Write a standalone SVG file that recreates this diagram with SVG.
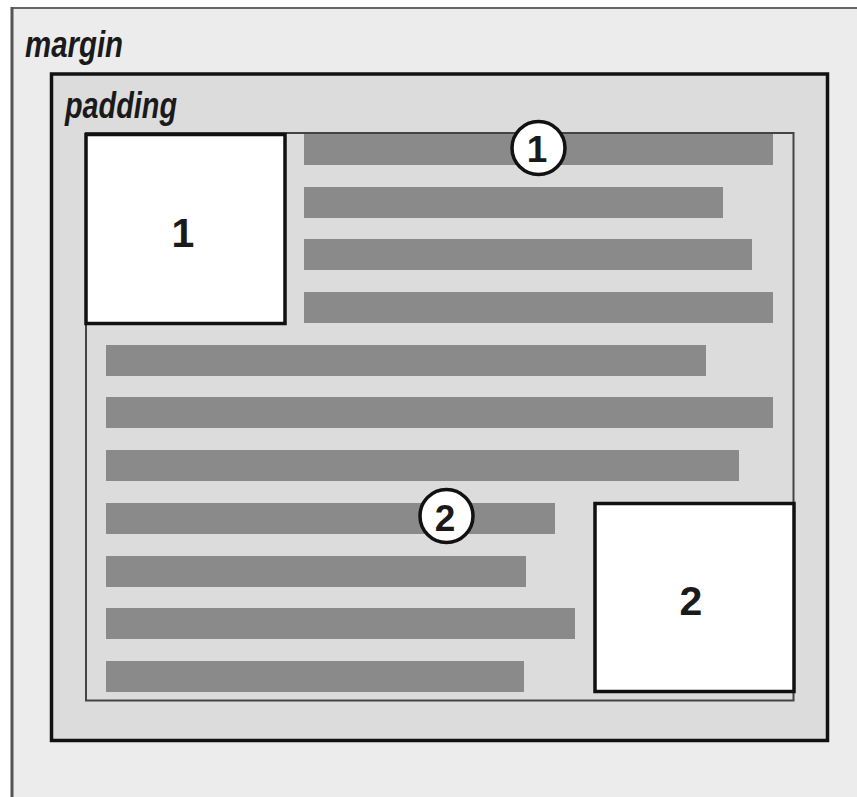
<svg xmlns="http://www.w3.org/2000/svg" width="857" height="797" viewBox="0 0 857 797">
  <style>
    .bar { fill: #8a8a8a; }
    .float { fill: #ffffff; stroke: #111111; stroke-width: 3.5; }
    .label { font-family: "Liberation Sans", Arial, sans-serif; font-weight: bold; font-style: italic; font-size: 37px; fill: #1a1a1a; }
    .num { font-family: "Liberation Sans", Arial, sans-serif; font-weight: bold; font-size: 41px; fill: #1a1a1a; text-anchor: middle; }
    .callout circle { fill: #ffffff; stroke: #111111; stroke-width: 3.5; }
    .callout text { font-family: "Liberation Sans", Arial, sans-serif; font-weight: bold; font-size: 37px; fill: #1a1a1a; text-anchor: middle; }
  </style>
  <rect x="0" y="0" width="857" height="797" fill="#ffffff"/>
  <g id="margin-area">
    <rect x="12" y="8" width="845" height="789" fill="#ececec"/>
    <line x1="12" y1="8" x2="857" y2="8" stroke="#666666" stroke-width="2"/>
    <line x1="12" y1="7" x2="12" y2="797" stroke="#555555" stroke-width="3"/>
    <text class="label" x="25" y="57" textLength="98" lengthAdjust="spacingAndGlyphs">margin</text>
  </g>
  <g id="border-box">
    <rect x="51.5" y="74" width="776" height="666.5" fill="#dcdcdc" stroke="#111111" stroke-width="3.5"/>
    <text class="label" x="65" y="118" textLength="112" lengthAdjust="spacingAndGlyphs">padding</text>
  </g>
  <g id="content-box">
    <rect x="86" y="133" width="707.5" height="567.5" fill="none" stroke="#444444" stroke-width="2"/>
  </g>
  <g id="text-lines">
    <rect class="bar" x="304" y="134" width="469" height="31"/>
    <rect class="bar" x="304" y="187" width="419" height="31"/>
    <rect class="bar" x="304" y="239" width="448" height="31"/>
    <rect class="bar" x="304" y="292" width="469" height="31"/>
    <rect class="bar" x="106" y="345" width="600" height="31"/>
    <rect class="bar" x="106" y="397" width="667" height="31"/>
    <rect class="bar" x="106" y="450" width="633" height="31"/>
    <rect class="bar" x="106" y="503" width="449" height="31"/>
    <rect class="bar" x="106" y="556" width="420" height="31"/>
    <rect class="bar" x="106" y="608" width="469" height="31"/>
    <rect class="bar" x="106" y="661" width="418" height="31"/>
  </g>
  <g id="float-1">
    <rect class="float" x="86" y="134.5" width="199" height="189"/>
    <text class="num" x="183" y="247">1</text>
  </g>
  <g id="float-2">
    <rect class="float" x="595" y="503.5" width="199" height="188"/>
    <text class="num" x="691" y="615">2</text>
  </g>
  <g id="callout-1" class="callout">
    <circle cx="538.5" cy="148" r="26.5"/>
    <text x="537" y="162">1</text>
  </g>
  <g id="callout-2" class="callout">
    <circle cx="446.5" cy="516" r="26.5"/>
    <text x="445" y="531">2</text>
  </g>
</svg>
